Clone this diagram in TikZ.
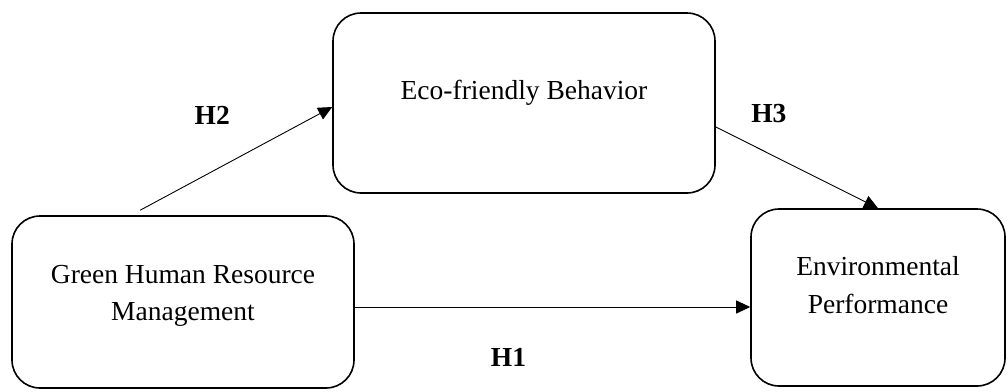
\documentclass[tikz,border=0pt]{standalone}
\usepackage{fontspec}
\setmainfont{Liberation Serif}
\usetikzlibrary{arrows.meta}

\tikzset{
  box/.style={draw, line width=1.6pt, rounded corners=28pt, align=center,
    font=\fontsize{27.5}{37}\selectfont, inner sep=0pt},
  arr/.style={line width=0.9pt, -{Triangle[length=14pt,width=13pt]}},
  hyp/.style={font=\fontsize{27.5}{33}\selectfont\bfseries}
}

\begin{document}
\begin{tikzpicture}[x=1pt,y=-1pt]
  \useasboundingbox (0,0) rectangle (1008,391);

  \node[box, minimum width=382pt, minimum height=180pt,
    text height=18pt, text depth=26pt] (ECO) at (524,103) {Eco-friendly Behavior};
  \node[box, minimum width=342pt, minimum height=172pt,
    text height=56pt, text depth=20pt] (GHRM) at (183,302) {Green Human Resource\\Management};
  \node[box, minimum width=254pt, minimum height=177pt,
    text height=57pt, text depth=26pt, font=\fontsize{27.5}{38}\selectfont] (ENV) at (878,297.5) {Environmental\\Performance};

  \draw[arr] ([xshift=129pt,yshift=5pt]GHRM.north west) -- ([yshift=-4pt]ECO.west)
    node[hyp, midway, xshift=-24pt, yshift=43pt] {H2};
  \draw[arr] ([yshift=-24pt]ECO.east) -- (ENV.north)
    node[hyp, midway, xshift=-28pt, yshift=54pt] {H3};
  \draw[arr] ([yshift=-5pt]GHRM.east) -- ([yshift=-5pt]GHRM.east -| ENV.west)
    node[hyp, midway, xshift=-44pt, yshift=-50pt] {H1};
\end{tikzpicture}
\end{document}
